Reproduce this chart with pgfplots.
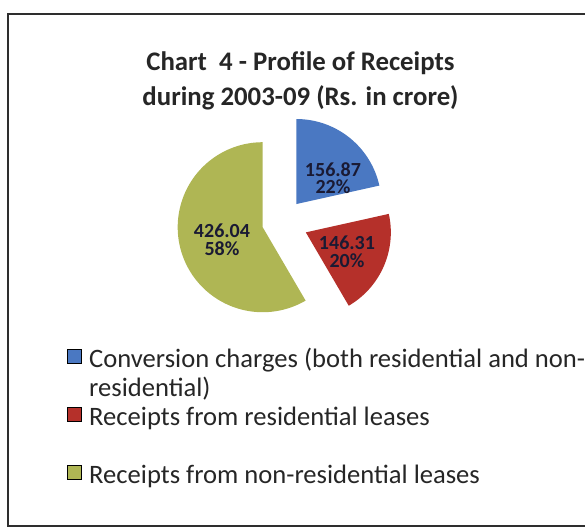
\documentclass[border=0pt]{standalone}
\usepackage{pgfplots}
\pgfplotsset{compat=1.18}
\usepackage{pgfplotstable}
\usepackage{fontspec}
\setmainfont{Carlito}
\definecolor{cblue}{HTML}{4A78C2}
\definecolor{cred}{HTML}{B5302A}
\definecolor{cgreen}{HTML}{AFB654}
\definecolor{ctext}{HTML}{262626}
\definecolor{clabel}{HTML}{1A1A33}
\definecolor{cframe}{HTML}{2E2E2E}
\newcommand\lstrut{\rule[-4.25pt]{0pt}{14.25pt}}
\pgfplotsset{sq legend/.style={legend image code/.code={%
  \fill[##1] (0pt,-2.2pt) rectangle (7pt,4.8pt);
  \path (10.5pt,0pt);}}}
\pgfplotstableread{
name value explode
conv 156.87 23
res 146.31 26
nonres 426.04 20
}\receipts
\begin{document}%
\begin{tikzpicture}
\pgfplotstablegetelem{0}{value}\of\receipts \edef\va{\pgfplotsretval}
\pgfplotstablegetelem{1}{value}\of\receipts \edef\vb{\pgfplotsretval}
\pgfplotstablegetelem{2}{value}\of\receipts \edef\vc{\pgfplotsretval}
\pgfplotstablegetelem{0}{explode}\of\receipts \edef\ea{\pgfplotsretval}
\pgfplotstablegetelem{1}{explode}\of\receipts \edef\eb{\pgfplotsretval}
\pgfplotstablegetelem{2}{explode}\of\receipts \edef\ec{\pgfplotsretval}
\pgfmathsetmacro{\tot}{\va+\vb+\vc}
\pgfmathsetmacro{\aA}{90}
\pgfmathsetmacro{\aB}{\aA-360*(\va/\tot)}
\pgfmathsetmacro{\aC}{\aB-360*(\vb/\tot)}
\pgfmathsetmacro{\aD}{\aC-360*(\vc/\tot)}
\def\cx{282}\def\cy{306}\def\R{85}
\pgfmathsetmacro{\oAx}{\cx+\ea*cos((\aA+\aB)/2)}
\pgfmathsetmacro{\oAy}{\cy+\ea*sin((\aA+\aB)/2)}
\pgfmathsetmacro{\oBx}{\cx+\eb*cos((\aB+\aC)/2)}
\pgfmathsetmacro{\oBy}{\cy+\eb*sin((\aB+\aC)/2)}
\pgfmathsetmacro{\oCx}{\cx+\ec*cos((\aC+\aD)/2)}
\pgfmathsetmacro{\oCy}{\cy+\ec*sin((\aC+\aD)/2)}
\begin{axis}[
  scale only axis, width=292.5pt, height=264pt,
  xmin=0, xmax=585, ymin=0, ymax=528, enlargelimits=false,
  hide axis, clip=false,
  legend cell align=left,
  legend style={at={(axis cs:67,181)}, anchor=north west, draw=none, fill=none,
    inner sep=0pt, row sep=3pt, nodes={inner sep=0pt, text=ctext},
    font=\fontsize{13.3pt}{14.25pt}\selectfont},
]
\coordinate (BL) at (axis cs:0,0);
\coordinate (TR) at (axis cs:585,528);
% frame
\draw[line width=1.2pt, cframe] (axis cs:590,514) -- (axis cs:8,514) -- (axis cs:8,2) -- (axis cs:590,2);
% title
\node[anchor=base, font=\fontsize{13.4pt}{16pt}\selectfont\bfseries, text=ctext] at (axis cs:300.5,457) {Chart\ \ 4 - Profile of Receipts};
\node[anchor=base, font=\fontsize{13.4pt}{16pt}\selectfont\bfseries, text=ctext] at (axis cs:300.5,422) {during 2003-09 (Rs. in crore)};
% slices
\addplot[forget plot, draw=none, fill=cblue, domain=\aB:\aA, samples=90, variable=\t]
  ({\oAx+\R*cos(\t)}, {\oAy+\R*sin(\t)}) -- (axis cs:\oAx,\oAy) -- cycle;
\addplot[forget plot, draw=none, fill=cred, domain=\aC:\aB, samples=90, variable=\t]
  ({\oBx+\R*cos(\t)}, {\oBy+\R*sin(\t)}) -- (axis cs:\oBx,\oBy) -- cycle;
\addplot[forget plot, draw=none, fill=cgreen, domain=\aD:\aC, samples=180, variable=\t]
  ({\oCx+\R*cos(\t)}, {\oCy+\R*sin(\t)}) -- (axis cs:\oCx,\oCy) -- cycle;
% data labels
\node[align=center, font=\fontsize{10pt}{8.8pt}\selectfont\bfseries, text=clabel] at (axis cs:333,350) {156.87\\22\%};
\node[align=center, font=\fontsize{10pt}{8.8pt}\selectfont\bfseries, text=clabel] at (axis cs:347,276) {146.31\\20\%};
\node[align=center, font=\fontsize{10pt}{8.8pt}\selectfont\bfseries, text=clabel] at (axis cs:222,288) {426.04\\58\%};
% legend
\addlegendimage{sq legend, fill=cblue}
\addlegendentry{\lstrut Conversion charges (both residential and non-}
\addlegendimage{empty legend}
\addlegendentry{\lstrut residential)}
\addlegendimage{sq legend, fill=cred}
\addlegendentry{\lstrut Receipts from residential leases}
\addlegendimage{empty legend}
\addlegendentry{\lstrut}
\addlegendimage{sq legend, fill=cgreen}
\addlegendentry{\lstrut Receipts from non-residential leases}
\end{axis}
\pgfresetboundingbox
\useasboundingbox (BL) rectangle (TR);
\end{tikzpicture}%
\end{document}
